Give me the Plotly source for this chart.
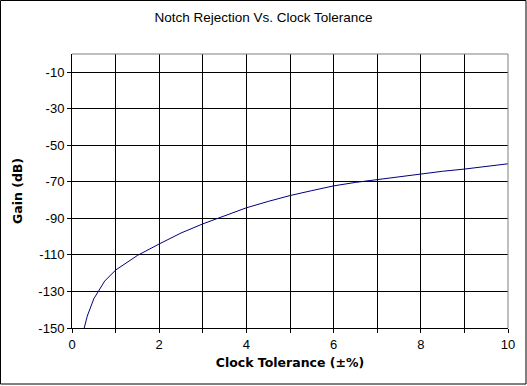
import plotly.graph_objects as go

# Data
tolerance_pct = [0.28, 0.35, 0.5, 0.75, 1.0, 1.5, 2.0, 2.5, 3.0, 3.5, 4.0, 4.5,
                 5.0, 5.5, 6.0, 6.5, 7.0, 7.5, 8.0, 8.5, 9.0, 9.5, 10.0]
gain_db = [-150, -143.5, -134.0, -124.3, -118.3, -110.3, -104.0, -98.0, -93.0,
           -88.4, -84.2, -80.7, -77.5, -74.8, -72.2, -70.3, -68.7, -67.0,
           -65.5, -64.2, -63.0, -61.5, -60.1]

x_tick_vals = [0, 2, 4, 6, 8, 10]
x_tick_text = ["0", "2", "4", "6", "8", "10"]
y_tick_vals = [-10, -30, -50, -70, -90, -110, -130, -150]
y_tick_text = ["-10", "-30", "-50", "-70", "-90", "-110", "-130", "-150"]

FONT = "Liberation Sans, Arial, sans-serif"
BOLD_FONT = "DejaVu Sans, Verdana, sans-serif"

fig = go.Figure()
fig.add_trace(go.Scatter(
    x=tolerance_pct, y=gain_db, mode="lines",
    line=dict(color="#000080", width=1),
    showlegend=False, cliponaxis=True,
))

fig.update_layout(
    width=527, height=386,
    margin=dict(l=72, r=19, t=54, b=58),
    paper_bgcolor="white", plot_bgcolor="white",
    font=dict(family=FONT, size=12, color="black"),
    title=dict(text="Notch Rejection Vs. Clock Tolerance",
               x=0.5, xanchor="center", y=1 - 17 / 386, yanchor="middle",
               font=dict(family=FONT, size=13.5, color="black")),
    xaxis=dict(
        range=[0, 10], tickvals=x_tick_vals, ticktext=x_tick_text,
        ticks="outside", ticklen=4, tickcolor="black", tickwidth=1,
        showgrid=True, gridcolor="black", gridwidth=1,
        showline=True, linecolor="black", linewidth=1,
        zeroline=False,
        minor=dict(dtick=1, tick0=0, ticks="outside", ticklen=4,
                   tickcolor="black", showgrid=True, gridcolor="black",
                   gridwidth=1),
        title=dict(text="<b>Clock Tolerance (±%)</b>", standoff=7,
                   font=dict(family=BOLD_FONT, size=12.5)),
        tickfont=dict(family=FONT, size=13),
    ),
    yaxis=dict(
        range=[-150, 0], tickvals=y_tick_vals, ticktext=y_tick_text,
        ticks="outside", ticklen=4, tickcolor="black", tickwidth=1,
        showgrid=True, gridcolor="black", gridwidth=1,
        showline=True, linecolor="black", linewidth=1,
        zeroline=False,
        title=dict(text="<b>Gain (dB)</b>", standoff=12,
                   font=dict(family=BOLD_FONT, size=12.5)),
        tickfont=dict(family=FONT, size=13),
    ),
    shapes=[
        dict(type="line", xref="paper", yref="paper", x0=0, x1=1, y0=1, y1=1,
             line=dict(color="#808080", width=1)),
        dict(type="line", xref="paper", yref="paper", x0=1, x1=1, y0=0, y1=1,
             line=dict(color="#808080", width=1)),
        # outer frame of the whole picture
        dict(type="rect", xref="paper", yref="paper",
             x0=-71.5 / 436, x1=1 + 18 / 436, y0=-56 / 274, y1=1 + 53.5 / 274,
             line=dict(color="black", width=1)),
    ],
)

fig.write_html(
    "out.html",
    config={"displayModeBar": False},
    post_script="document.body.style.margin='0';document.body.style.overflow='hidden';",
)
